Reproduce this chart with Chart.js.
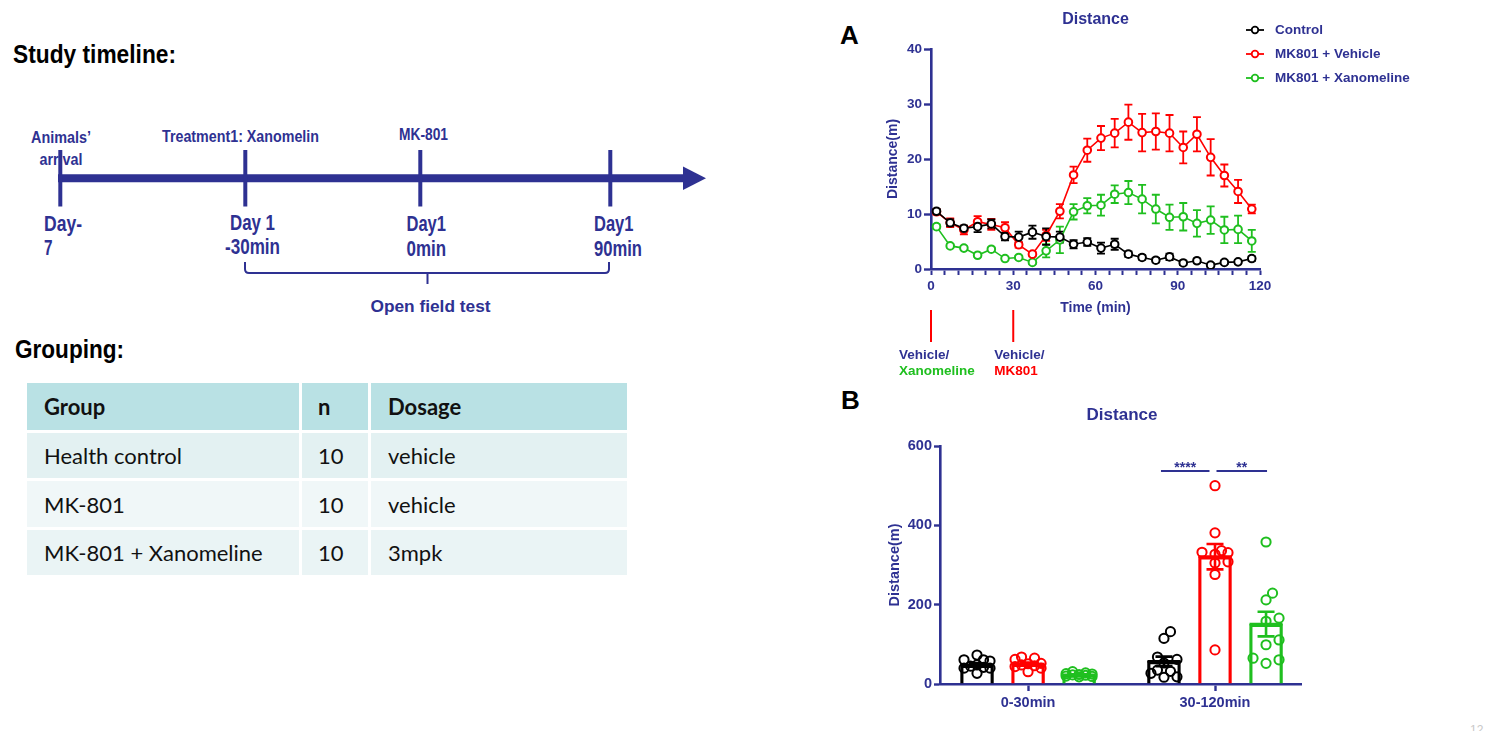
<!DOCTYPE html>
<html>
<head>
<meta charset="utf-8">
<script src="https://cdn.jsdelivr.net/npm/chart.js@4.4.1/dist/chart.umd.min.js"></script>
<style>
  html,body{margin:0;padding:0;background:#fff;}
  #page{position:relative;width:1500px;height:731px;overflow:hidden;background:#fff;}
  .narrow{font-family:"Liberation Sans Narrow","Arial Narrow","Liberation Sans",Arial,sans-serif;font-weight:bold;}
  .arial{font-family:"Liberation Sans",Arial,sans-serif;font-weight:bold;}
  #tbl{position:absolute;left:27px;top:383px;width:600px;display:grid;
       grid-template-columns:272px 66px 256px;grid-template-rows:47px 45px 46px 45px;gap:3px;
       font-family:Lato,"Open Sans",sans-serif;font-size:22px;color:#111;}
  #tbl div{display:flex;align-items:center;padding-left:17px;box-sizing:border-box;}
  #tbl .h{background:#b9e1e4;font-weight:bold;}
  #tbl .r1{background:#e3f1f2;}
  #tbl .r2{background:#f0f7f8;}
  #tbl .r3{background:#eaf4f5;}
  #tbl .c2{padding-left:16px;}
  canvas{position:absolute;}
  .panel{position:absolute;font:bold 26px 'Liberation Sans',Arial,sans-serif;color:#000;line-height:normal;}
</style>
</head>
<body>
<div id="page">
  <svg width="720" height="380" style="position:absolute;left:0;top:0" xmlns="http://www.w3.org/2000/svg">
    <text class="narrow" x="13" y="63" font-size="25" fill="#000" textLength="163" lengthAdjust="spacingAndGlyphs">Study timeline:</text>
    <text class="narrow" x="15" y="358" font-size="25" fill="#000" textLength="109" lengthAdjust="spacingAndGlyphs">Grouping:</text>
    <g fill="#2e3192">
      <text class="narrow" x="31" y="143" font-size="16" textLength="60" lengthAdjust="spacingAndGlyphs">Animals’</text>
      <text class="narrow" x="39.5" y="164.5" font-size="16" textLength="43" lengthAdjust="spacingAndGlyphs">arrival</text>
      <text class="narrow" x="162" y="142" font-size="16" textLength="157" lengthAdjust="spacingAndGlyphs">Treatment1: Xanomelin</text>
      <text class="narrow" x="399" y="140" font-size="16" textLength="49" lengthAdjust="spacingAndGlyphs">MK-801</text>
      <text class="narrow" x="44" y="231" font-size="22" textLength="38" lengthAdjust="spacingAndGlyphs">Day-</text>
      <text class="narrow" x="44" y="255" font-size="22" textLength="8.5" lengthAdjust="spacingAndGlyphs">7</text>
      <text class="narrow" x="230" y="230" font-size="22" textLength="45" lengthAdjust="spacingAndGlyphs">Day 1</text>
      <text class="narrow" x="225" y="254" font-size="22" textLength="55" lengthAdjust="spacingAndGlyphs">-30min</text>
      <text class="narrow" x="406.5" y="230.5" font-size="22" textLength="39.5" lengthAdjust="spacingAndGlyphs">Day1</text>
      <text class="narrow" x="406.5" y="256" font-size="22" textLength="39.5" lengthAdjust="spacingAndGlyphs">0min</text>
      <text class="narrow" x="594" y="230.5" font-size="22" textLength="39.5" lengthAdjust="spacingAndGlyphs">Day1</text>
      <text class="narrow" x="594" y="256" font-size="22" textLength="48" lengthAdjust="spacingAndGlyphs">90min</text>
      <text class="arial" x="370.5" y="312" font-size="17" textLength="120" lengthAdjust="spacingAndGlyphs">Open field test</text>
    </g>
    <g stroke="#2e3192" fill="none">
      <line x1="58" y1="178.3" x2="686" y2="178.3" stroke-width="8"/>
      <line x1="60.3" y1="150" x2="60.3" y2="206.5" stroke-width="4"/>
      <line x1="245.3" y1="150" x2="245.3" y2="206.5" stroke-width="4"/>
      <line x1="420.3" y1="150" x2="420.3" y2="206.5" stroke-width="4"/>
      <line x1="610.3" y1="150" x2="610.3" y2="206.5" stroke-width="4"/>
      <path d="M245,262 V269 Q245,273 249,273 H605 Q609,273 609,269 V262" stroke-width="2"/>
      <path d="M427.5,273 V284" stroke-width="2"/>
    </g>
    <polygon points="683,166.5 706,178.3 683,190" fill="#2e3192"/>
  </svg>

  <div id="tbl">
    <div class="h">Group</div><div class="h c2">n</div><div class="h">Dosage</div>
    <div class="r1">Health control</div><div class="r1 c2">10</div><div class="r1">vehicle</div>
    <div class="r2">MK-801</div><div class="r2 c2">10</div><div class="r2">vehicle</div>
    <div class="r3">MK-801 + Xanomeline</div><div class="r3 c2">10</div><div class="r3">3mpk</div>
  </div>

  <div class="panel" style="left:840px;top:20px;">A</div>
  <div class="panel" style="left:841px;top:385px;">B</div>
  <div style="position:absolute;left:1470px;top:723px;font:12px 'Liberation Sans',Arial,sans-serif;color:#c8c8c8;">12</div>

  <canvas id="chartA" width="660" height="390" style="left:840px;top:0px;width:660px;height:390px"></canvas>
  <canvas id="chartB" width="660" height="341" style="left:840px;top:390px;width:660px;height:341px"></canvas>
</div>

<script>
// ---------------- DATA ----------------
// Panel A: distance per 5-min bin (m), mean and SEM
const timeMin = [2,7,12,17,22,27,32,37,42,47,52,57,62,67,72,77,82,87,92,97,102,107,112,117];
const controlMean = [10.5,8.4,7.4,7.7,8.2,5.9,5.8,6.7,5.9,5.8,4.5,4.9,3.8,4.5,2.7,2.1,1.6,2.2,1.1,1.5,0.7,1.2,1.3,1.9];
const controlSem  = [0.4,0.6,0.5,1.0,0.8,0.7,1.0,1.2,1.5,1.0,0.75,0.7,1.0,1.0,0.5,0.4,0.4,0.6,0.4,0.4,0.3,0.3,0.3,0.4];
const vehicleMean = [10.4,8.4,7.1,8.6,8.1,7.5,4.4,2.7,6.1,10.5,17.1,21.6,23.8,24.7,26.7,24.8,25.0,24.7,22.1,24.5,20.3,17.0,14.1,10.9];
const vehicleSem  = [0.5,0.8,0.8,1.0,1.0,1.0,0.5,0.4,1.0,1.3,1.5,2.1,2.2,2.6,3.2,3.4,3.3,3.3,2.9,3.1,3.3,2.0,2.1,0.8];
const xanoMean    = [7.7,4.2,3.8,2.5,3.6,1.9,2.1,1.2,3.3,5.3,10.4,11.5,11.6,13.6,13.9,12.7,10.9,9.4,9.5,8.3,8.9,7.1,7.2,5.1];
const xanoSem     = [0.4,0.3,0.3,0.3,0.3,0.3,0.3,0.3,1.2,2.4,1.4,1.4,1.9,1.6,2.1,2.6,2.6,2.3,2.5,2.4,2.5,2.4,2.5,2.0];
const seriesNames = ['Control','MK801 + Vehicle','MK801 + Xanomeline'];
const xTickLabelsA = [0,30,60,90,120];
const yTickLabelsA = [0,10,20,30,40];
const injectionTimes = [0,30];
const injectionTop = ['Vehicle/','Vehicle/'];
const injectionBottom = ['Xanomeline','MK801'];

// Panel B: total distance (m) per period
const periods = ['0-30min','30-120min'];
const controlBar = [48,57];   const controlBarSem = [4,12];
const vehicleBar = [50,321];  const vehicleBarSem = [4,32];
const xanoBar    = [23,151];  const xanoBarSem    = [1.5,31];
const controlPts = [[73,61,58,61,48,40,42,40,45,27],[132,115,68,62,53,35,32,27,17,18]];
const vehiclePts = [[65,62,68,40,51,48,31,44,46,52],[500,381,327,332,336,331,308,305,276,86]];
const xanoPts    = [[28,31,25,22,18,20,24,26,19,23],[358,229,212,166,158,111,99,65,52,61]];
const yTickLabelsB = [0,200,400,600];
const sigPairs = [{a:0,b:1,label:'****'},{a:1,b:2,label:'**'}];
const sigValue = 537;

// ---------------- STYLE ----------------
const NAVY = '#2e3192';
const FONT = '"Liberation Sans", Arial, Helvetica, sans-serif';
const COLORS = ['#000000','#ff0000','#1fbf1f'];
const injColorsBottom = [COLORS[2], COLORS[1]];
const injTextShift = [-32,-19];
const barShift = [-0.273, 0, 0.273];

// ---------------- PANEL A ----------------
const meansA = [controlMean, vehicleMean, xanoMean];
const semsA = [controlSem, vehicleSem, xanoSem];
const dsA = seriesNames.map((name,i)=>({
  label:name,
  data: timeMin.map((t,j)=>({x:t,y:meansA[i][j]})),
  sem: semsA[i],
  borderColor: COLORS[i], backgroundColor:'#fff',
  borderWidth:1.6, pointRadius:3.8, pointBorderWidth:2,
  pointBackgroundColor:'#fff', pointBorderColor:COLORS[i], tension:0
}));

const errA = {
  id:'errA',
  beforeDatasetsDraw(chart){
    const {ctx, scales:{x,y}} = chart;
    for (let i = chart.data.datasets.length-1; i>=0; i--){
      const ds = chart.data.datasets[i];
      ctx.save(); ctx.strokeStyle = ds.borderColor; ctx.lineWidth = 1.8;
      ds.data.forEach((p,j)=>{
        const px = x.getPixelForValue(p.x);
        const t = y.getPixelForValue(p.y + ds.sem[j]);
        const b = y.getPixelForValue(Math.max(0,p.y - ds.sem[j]));
        ctx.beginPath();
        ctx.moveTo(px,t); ctx.lineTo(px,b);
        ctx.moveTo(px-4,t); ctx.lineTo(px+4,t);
        ctx.moveTo(px-4,b); ctx.lineTo(px+4,b);
        ctx.stroke();
      });
      ctx.restore();
    }
  }
};

const overlayA = {
  id:'overlayA',
  afterDraw(chart){
    const {ctx, chartArea:ca, scales:{x}} = chart;
    ctx.save();
    ctx.fillStyle = NAVY; ctx.textAlign='center'; ctx.textBaseline='middle';
    ctx.font = `bold 16px ${FONT}`;
    ctx.fillText('Distance', (ca.left+ca.right)/2, 20);
    // legend
    chart.data.datasets.forEach((ds,i)=>{
      const yy = 30 + 24*i;
      const lx = ca.right - 14;
      ctx.strokeStyle = ds.borderColor; ctx.lineWidth = 1.8;
      ctx.beginPath(); ctx.moveTo(lx,yy); ctx.lineTo(lx+18,yy); ctx.stroke();
      ctx.beginPath(); ctx.arc(lx+9,yy,3.3,0,Math.PI*2); ctx.fillStyle='#fff'; ctx.fill(); ctx.stroke();
      ctx.fillStyle = NAVY; ctx.textAlign='left'; ctx.font = `bold 13.5px ${FONT}`;
      ctx.fillText(ds.label, lx+29, yy+0.5);
    });
    // injection markers
    injectionTimes.forEach((t,k)=>{
      const px = x.getPixelForValue(t);
      ctx.strokeStyle = '#ff0000'; ctx.lineWidth = 2;
      ctx.beginPath(); ctx.moveTo(px, ca.bottom+41); ctx.lineTo(px, ca.bottom+73); ctx.stroke();
      ctx.textAlign='left'; ctx.textBaseline='alphabetic'; ctx.font = `bold 13.5px ${FONT}`;
      ctx.fillStyle = NAVY; ctx.fillText(injectionTop[k], px+injTextShift[k], ca.bottom+90);
      ctx.fillStyle = injColorsBottom[k]; ctx.fillText(injectionBottom[k], px+injTextShift[k], ca.bottom+105.5);
    });
    ctx.restore();
  }
};

new Chart(document.getElementById('chartA'), {
  type:'line',
  data:{datasets: dsA},
  options:{
    responsive:false, animation:false, devicePixelRatio:1,
    layout:{padding:{left:45,right:240,top:49,bottom:73}},
    plugins:{legend:{display:false}, tooltip:{enabled:false}, title:{display:false}},
    scales:{
      x:{type:'linear', min:0, max:120,
        border:{display:true,color:NAVY,width:2.6},
        grid:{display:true,drawOnChartArea:false,drawTicks:true,tickLength:6,tickColor:NAVY,tickWidth:2},
        ticks:{stepSize:5,autoSkip:false,maxRotation:0,color:NAVY,padding:3,
          font:{family:FONT,size:13.5,weight:'bold'},
          callback:v=> xTickLabelsA.includes(v) ? String(v) : ''},
        title:{display:true,text:'Time (min)',color:NAVY,padding:0,font:{family:FONT,size:14,weight:'bold'}},
        afterFit:s=>{s.height=48;}
      },
      y:{type:'linear', min:0, max:40,
        border:{display:true,color:NAVY,width:2.6},
        grid:{display:true,drawOnChartArea:false,drawTicks:true,tickLength:7,tickColor:NAVY,tickWidth:2.4},
        ticks:{stepSize:10,color:NAVY,padding:2,font:{family:FONT,size:13.5,weight:'bold'},
          callback:v=> yTickLabelsA.includes(v) ? String(v) : ''},
        title:{display:true,text:'Distance(m)',color:NAVY,padding:0,font:{family:FONT,size:14,weight:'bold'}},
        afterFit:s=>{s.width=46;}
      }
    }
  },
  plugins:[errA, overlayA]
});

// ---------------- PANEL B ----------------
const barMeans = [controlBar, vehicleBar, xanoBar];
const barSems = [controlBarSem, vehicleBarSem, xanoBarSem];
const ptsB = [controlPts, vehiclePts, xanoPts];

const barSets = seriesNames.map((name,i)=>({
  type:'bar', label:name, order:2,
  data: periods.map((p,k)=>({x:k+1+barShift[i], y:barMeans[i][k]})),
  sem: barSems[i],
  backgroundColor:'rgba(0,0,0,0)', borderColor:COLORS[i], borderWidth:2.6,
  borderSkipped:'bottom', barThickness:33, grouped:false
}));
const ptSets = seriesNames.map((name,i)=>({
  type:'scatter', label:name+' pts', order:1,
  data: periods.flatMap((p,k)=> ptsB[i][k].map(v=>({x:k+1+barShift[i], y:v, c:k+1+barShift[i]}))),
  pointRadius:4.6, pointBorderWidth:2, pointBorderColor:COLORS[i], borderColor:COLORS[i],
  pointBackgroundColor:'rgba(0,0,0,0)', backgroundColor:'rgba(0,0,0,0)', showLine:false
}));

const overlayB = {
  id:'overlayB',
  afterDatasetsDraw(chart){
    const {ctx, scales:{x,y}} = chart;
    ctx.save();
    chart.data.datasets.forEach(ds=>{
      if (ds.type!=='bar') return;
      ctx.strokeStyle = ds.borderColor; ctx.lineWidth = 2.6;
      ds.data.forEach((p,k)=>{
        const px = x.getPixelForValue(p.x);
        const t = y.getPixelForValue(p.y + ds.sem[k]);
        const b = y.getPixelForValue(p.y - ds.sem[k]);
        const m = y.getPixelForValue(p.y);
        ctx.beginPath();
        ctx.moveTo(px,t); ctx.lineTo(px,b);
        ctx.moveTo(px-8.5,t); ctx.lineTo(px+8.5,t);
        ctx.moveTo(px-8.5,b); ctx.lineTo(px+8.5,b);
        ctx.moveTo(px-16.5,m); ctx.lineTo(px+16.5,m);
        ctx.stroke();
      });
    });
    // significance
    const sy = y.getPixelForValue(sigValue);
    ctx.strokeStyle = NAVY; ctx.fillStyle = NAVY; ctx.lineWidth = 2;
    ctx.font = `bold 14px ${FONT}`; ctx.textAlign='center'; ctx.textBaseline='alphabetic';
    sigPairs.forEach(s=>{
      const xa = x.getPixelForValue(2+barShift[s.a]) - (s.a===0?3:-1.5);
      const xb = x.getPixelForValue(2+barShift[s.b]) - (s.b===1?5.5:-1);
      ctx.beginPath(); ctx.moveTo(xa,sy); ctx.lineTo(xb,sy); ctx.stroke();
      ctx.fillText(s.label, (xa+xb)/2, sy+1);
    });
    ctx.restore();
  },
  afterDraw(chart){
    const {ctx, chartArea:ca} = chart;
    ctx.save();
    ctx.fillStyle = NAVY; ctx.textAlign='center'; ctx.textBaseline='middle';
    ctx.font = `bold 17px ${FONT}`;
    ctx.fillText('Distance', (ca.left+ca.right)/2 + 1.5, 25);
    ctx.restore();
  }
};

const chartB = new Chart(document.getElementById('chartB'), {
  type:'bar',
  data:{datasets:[...barSets, ...ptSets]},
  options:{
    responsive:false, animation:false, devicePixelRatio:1,
    layout:{padding:{left:46,right:199,top:56,bottom:17}},
    plugins:{legend:{display:false}, tooltip:{enabled:false}, title:{display:false}},
    scales:{
      x:{type:'linear', min:0.529, max:2.46, bounds:'data', offset:false,
        border:{display:true,color:NAVY,width:2.6},
        grid:{display:true,offset:false,drawOnChartArea:false,drawTicks:true,tickLength:7,tickColor:NAVY,tickWidth:2.4},
        afterBuildTicks:s=>{ s.ticks = periods.map((p,k)=>({value:k+1})); },
        ticks:{autoSkip:false,maxRotation:0,color:NAVY,padding:3,font:{family:FONT,size:14.5,weight:'bold'},
          callback:v=> periods[Math.round(v)-1] || ''},
        afterFit:s=>{s.height=30;}
      },
      y:{type:'linear', min:0, max:600,
        border:{display:true,color:NAVY,width:2.6},
        grid:{display:true,drawOnChartArea:false,drawTicks:true,tickLength:6,tickColor:NAVY,tickWidth:2.4},
        ticks:{stepSize:200,color:NAVY,padding:2,font:{family:FONT,size:14.5,weight:'bold'},
          callback:v=> yTickLabelsB.includes(v) ? String(v) : ''},
        title:{display:true,text:'Distance(m)',color:NAVY,padding:0,font:{family:FONT,size:14.5,weight:'bold'}},
        afterFit:s=>{s.width=54;}
      }
    }
  },
  plugins:[overlayB]
});

// beeswarm spread of individual points (layout computed from scales)
(function swarm(chart){
  const xs = chart.scales.x, ys = chart.scales.y;
  const STEP = 6.5, GAP = 8.5, LIM = 14;
  chart.data.datasets.forEach(ds=>{
    if (ds.type!=='scatter') return;
    const out = [];
    const groups = {};
    ds.data.forEach(p=>{ (groups[p.c] = groups[p.c] || []).push(p); });
    Object.values(groups).forEach(pts=>{
      const cx = xs.getPixelForValue(pts[0].c);
      const placed = [];
      pts.slice().sort((a,b)=>a.y-b.y).forEach(p=>{
        const py = ys.getPixelForValue(p.y);
        let best = 0, bestD = -1;
        for (const k of [0,1,-1,2,-2]) {
          const ox = Math.max(-LIM, Math.min(LIM, k*STEP));
          const d = placed.reduce((m,q)=>Math.min(m, Math.hypot(q.ox-ox, q.py-py)), Infinity);
          if (d >= GAP) { best = ox; bestD = d; break; }
          if (d > bestD) { bestD = d; best = ox; }
        }
        placed.push({ox:best, py});
        out.push({x: xs.getValueForPixel(cx+best), y:p.y, c:p.c});
      });
    });
    ds.data = out;
  });
  chart.update('none');
})(chartB);
</script>
</body>
</html>
